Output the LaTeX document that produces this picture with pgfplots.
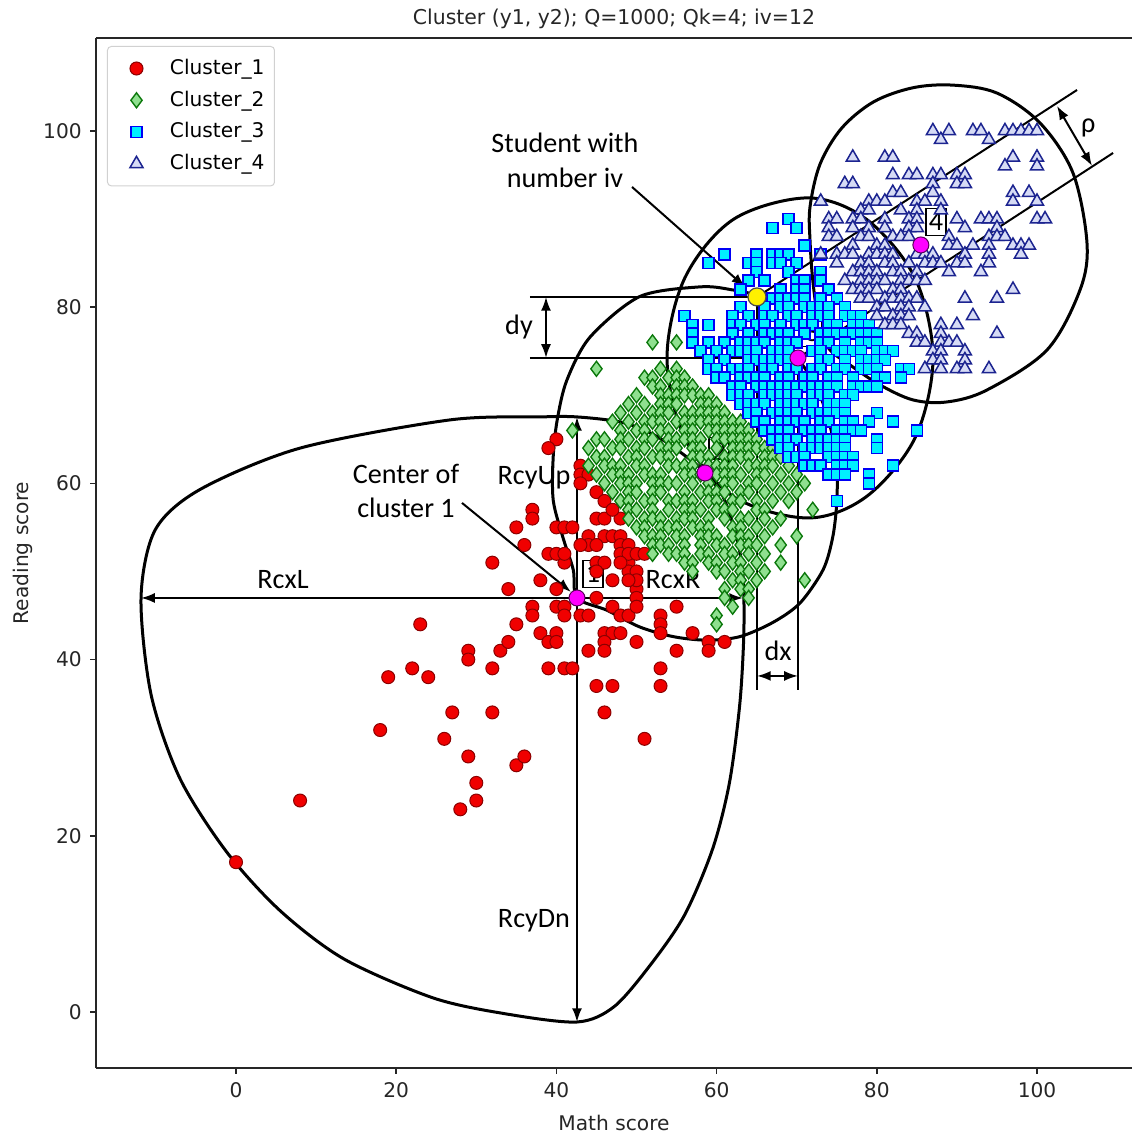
\documentclass[border=0pt]{standalone}
\usepackage{pgfplots}
\pgfplotsset{compat=1.18}
\usepackage{fontspec}
\setmainfont{DejaVu Sans}
\newfontfamily\carl{Carlito}
\usetikzlibrary{arrows.meta}
\definecolor{cOneF}{HTML}{F00000}
\definecolor{cOneE}{HTML}{8B0000}
\definecolor{cTwoF}{HTML}{8FE08F}
\definecolor{cTwoE}{HTML}{0B780B}
\definecolor{cThrF}{HTML}{00F0FF}
\definecolor{cThrE}{HTML}{0000F5}
\definecolor{cFouF}{HTML}{D6DBF5}
\definecolor{cFouE}{HTML}{1C2490}
\definecolor{cMag}{HTML}{FF00FF}
\definecolor{cMagE}{HTML}{5A005A}
\definecolor{cYel}{HTML}{FFF000}
\newcommand\annot{\carl\fontsize{11.3}{13}\selectfont}
\tikzset{numbox/.style={draw, fill=white, line width=0.5bp, inner sep=0pt, minimum width=8bp, minimum height=11bp, font=\annot}}
\pgfplotsset{myleg/.style={legend image code/.code={\path[draw=none] (0bp,0bp) -- (21bp,0bp); \path[mark repeat=2,mark phase=2,##1,draw=none] plot coordinates {(0bp,0bp)(9.6bp,0bp)(19.2bp,0bp)};}}}
\begin{document}
\begin{tikzpicture}[>={Latex[length=5.5bp,width=4bp]}]
\begin{axis}[
  scale only axis, width=414.4bp, height=412bp,
  xmin=-17.48, xmax=111.86, ymin=-6.36, ymax=110.55,
  axis lines=left, axis line style={-, black!85, line width=0.7bp},
  clip=false,
  xtick={0,20,...,100}, ytick={0,20,...,100},
  tick align=outside, major tick length=2.2bp,
  tick style={black!85, line width=0.6bp},
  ticklabel style={font=\fontsize{8.1}{9.7}\selectfont, text=black!85},
  /pgf/number format/assume math mode=true,
  xlabel={Math score},
  xlabel style={at={(axis description cs:0.5,-0.0602)}, anchor=base, font=\fontsize{8.1}{9.7}\selectfont, text=black!85},
  ylabel={Reading score},
  ylabel style={at={(axis description cs:-0.0656,0.5)}, anchor=base, font=\fontsize{8.1}{9.7}\selectfont, text=black!85},
  legend style={at={(rel axis cs:0,1)}, anchor=north west, xshift=4.4bp, yshift=-3.2bp,
    draw=black!18, rounded corners=1.5bp, font=\fontsize{8.1}{9.7}\selectfont,
    row sep=1.1bp, inner xsep=2bp, inner ysep=3bp, cells={anchor=west}},
]
\coordinate (sw) at (rel axis cs:0,0);
\coordinate (ne) at (rel axis cs:1,1);
% Cluster 1
\addplot[only marks, myleg, mark=*, mark size=2.6bp, mark options={fill=cOneF, draw=cOneE, line width=0.4bp}] coordinates {
(0,17)(8,24)(18,32)(19,38)(22,39)(23,44)(24,38)(26,31)(27,34)(28,23)(29,41)(29,40)(29,29)(30,26)(30,24)(32,51)(32,39)(32,34)(33,41)(34,48)(34,42)(35,44)(35,28)(36,29)(37,46)(37,45)(38,49)(38,43)(39,42)(40,48)(40,46)(41,46)(41,45)(40,43)(40,42)(41,51)(39,39)(41,39)(42,39)(43,45)(44,45)(45,47)(47,49)(49,51)(49,50)(50,50)(50,48)(50,47)(47,46)(48,45)(49,45)(46,43)(47,43)(48,43)(46,42)(46,41)(44,41)(50,42)(53,45)(53,44)(53,43)(55,46)(55,41)(53,39)(53,37)(45,37)(47,37)(46,34)(51,31)(40,65)(39,64)(43,62)(43,61)(44,61)(43,60)(45,59)(46,58)(37,57)(37,56)(35,55)(36,53)(40,55)(41,55)(42,55)(45,56)(46,56)(48,56)(47,57)(44,54)(46,54)(47,54)(48,54)(44,53)(45,53)(43,53)(39,52)(40,52)(41,52)(48,53)(49,53)(48,52)(49,52)(50,52)(48,51)(45,51)(46,51)(45,50)(51,52)(50,46)(57,43)(59,42)(59,41)(61,42)(50,49)(49,49)
};
\addlegendentry{Cluster\_1}
% Cluster 2
\addplot[only marks, myleg, mark=diamond*, mark size=3bp, mark options={fill=cTwoF, draw=cTwoE, line width=0.55bp}] coordinates {
(52,76)(55,76)(45,73)(53,73)(55,73)
(51,72)(52,72)(54,72)(55,72)(56,72)
(52,71)(53,71)(55,71)(56,71)(57,71)
(50,70)(53,70)(54,70)(55,70)(56,70)(57,70)(58,70)(59,70)
(49,69)(51,69)(53,69)(54,69)(55,69)(58,69)(59,69)(60,69)
(48,68)(50,68)(52,68)(53,68)(54,68)(56,68)(57,68)(58,68)(59,68)(60,68)(61,68)
(47,67)(49,67)(51,67)(52,67)(53,67)(55,67)(56,67)(57,67)(58,67)(59,67)(60,67)(61,67)(62,67)(63,67)
(42,66)(48,66)(50,66)(51,66)(53,66)(54,66)(56,66)(57,66)(59,66)(60,66)(61,66)(62,66)(63,66)(64,66)
(45,65)(46,65)(48,65)(49,65)(51,65)(52,65)(54,65)(55,65)(56,65)(57,65)(58,65)(60,65)(61,65)(62,65)(63,65)(64,65)(65,65)
(44,64)(47,64)(48,64)(50,64)(51,64)(53,64)(54,64)(55,64)(57,64)(58,64)(60,64)(62,64)(63,64)(64,64)(65,64)(66,64)(67,64)
(45,63)(46,63)(49,63)(50,63)(52,63)(53,63)(54,63)(57,63)(58,63)(59,63)(61,63)(62,63)(63,63)(64,63)(66,63)(67,63)(68,63)
(44,62)(46,62)(47,62)(48,62)(50,62)(51,62)(54,62)(55,62)(56,62)(57,62)(59,62)(60,62)(61,62)(62,62)(64,62)(65,62)(66,62)(67,62)(69,62)
(45,61)(47,61)(48,61)(49,61)(51,61)(52,61)(53,61)(56,61)(57,61)(58,61)(60,61)(61,61)(62,61)(63,61)(65,61)(66,61)(68,61)(70,61)
(46,60)(48,60)(49,60)(50,60)(52,60)(53,60)(54,60)(55,60)(57,60)(59,60)(61,60)(62,60)(64,60)(65,60)(67,60)(69,60)(71,60)
(47,59)(49,59)(50,59)(52,59)(53,59)(56,59)(58,59)(59,59)(60,59)(61,59)(63,59)(64,59)(66,59)(68,59)(70,59)
(48,58)(49,58)(51,58)(52,58)(54,58)(55,58)(56,58)(57,58)(59,58)(60,58)(62,58)(63,58)(65,58)(67,58)(69,58)
(49,57)(50,57)(52,57)(54,57)(56,57)(57,57)(58,57)(60,57)(61,57)(62,57)(65,57)(66,57)(72,57)
(49,56)(51,56)(52,56)(53,56)(55,56)(56,56)(57,56)(59,56)(61,56)(63,56)(64,56)(66,56)(68,56)
(50,55)(51,55)(53,55)(54,55)(55,55)(57,55)(58,55)(59,55)(62,55)(63,55)(65,55)(67,55)
(51,54)(52,54)(53,54)(55,54)(56,54)(58,54)(59,54)(60,54)(62,54)(63,54)(64,54)(66,54)(70,54)
(52,53)(53,53)(54,53)(56,53)(58,53)(60,53)(61,53)(63,53)(64,53)(65,53)(68,53)
(52,52)(54,52)(55,52)(56,52)(58,52)(59,52)(61,52)(62,52)(64,52)(66,52)
(56,51)(57,51)(59,51)(60,51)(62,51)(63,51)(65,51)(68,51)
(57,50)(60,50)(61,50)(63,50)(64,50)(66,50)
(62,49)(63,49)(65,49)(71,49)
(61,48)(63,48)(64,48)
(61,47)(64,47)(62,46)(60,45)(60,44)
};
\addlegendentry{Cluster\_2}
% Cluster 3
\addplot[only marks, myleg, mark=square*, mark size=2.2bp, mark options={fill=cThrF, draw=cThrE, line width=0.6bp}] coordinates {
(69,90)(67,89)(70,89)(71,87)
(61,86)(65,86)(67,86)(68,86)(69,86)(73,86)
(59,85)(64,85)(65,85)(67,85)(68,85)(70,85)
(65,84)(69,84)(73,84)
(64,83)(66,83)(70,83)(71,83)(73,83)
(63,82)(68,82)(70,82)(71,82)(74,82)
(67,81)(68,81)(69,81)(70,81)(71,81)(73,81)(75,81)
(63,80)(66,80)(68,80)(69,80)(71,80)(72,80)(73,80)(74,80)(76,80)
(56,79)(62,79)(64,79)(66,79)(67,79)(69,79)(70,79)(72,79)(73,79)(74,79)(76,79)(77,79)(78,79)
(57,78)(59,78)(62,78)(63,78)(65,78)(66,78)(68,78)(70,78)(71,78)(72,78)(74,78)(75,78)(77,78)(78,78)(79,78)
(57,77)(62,77)(64,77)(66,77)(67,77)(68,77)(69,77)(71,77)(73,77)(74,77)(75,77)(76,77)(77,77)(78,77)(79,77)(80,77)
(57,76)(59,76)(61,76)(63,76)(64,76)(65,76)(66,76)(68,76)(69,76)(70,76)(73,76)(74,76)(76,76)(78,76)(79,76)(80,76)
(58,75)(60,75)(62,75)(63,75)(64,75)(65,75)(67,75)(68,75)(69,75)(72,75)(73,75)(75,75)(76,75)(77,75)(78,75)(80,75)(81,75)(82,75)
(59,74)(61,74)(64,74)(65,74)(66,74)(67,74)(68,74)(69,74)(73,74)(74,74)(76,74)(78,74)(79,74)(80,74)(81,74)
(59,73)(60,73)(62,73)(63,73)(64,73)(66,73)(67,73)(69,73)(70,73)(72,73)(73,73)(75,73)(76,73)(78,73)(79,73)(80,73)(83,73)(84,73)
(60,72)(61,72)(63,72)(64,72)(65,72)(66,72)(68,72)(69,72)(71,72)(72,72)(74,72)(75,72)(77,72)(80,72)(81,72)(83,72)
(62,71)(63,71)(65,71)(66,71)(67,71)(68,71)(69,71)(70,71)(71,71)(72,71)(73,71)(74,71)(75,71)(77,71)(78,71)(79,71)(80,71)
(62,70)(63,70)(64,70)(66,70)(67,70)(68,70)(69,70)(70,70)(72,70)(73,70)(74,70)(76,70)(77,70)
(63,69)(64,69)(65,69)(66,69)(68,69)(69,69)(70,69)(71,69)(72,69)(74,69)(75,69)(76,69)
(64,68)(65,68)(67,68)(68,68)(69,68)(70,68)(72,68)(73,68)(74,68)(75,68)(76,68)(80,68)
(65,67)(66,67)(68,67)(69,67)(70,67)(71,67)(73,67)(74,67)(76,67)(77,67)(79,67)(82,67)
(66,66)(67,66)(68,66)(69,66)(71,66)(72,66)(73,66)(75,66)(76,66)(77,66)(78,66)(85,66)
(67,65)(68,65)(69,65)(70,65)(72,65)(73,65)(74,65)(75,65)(76,65)(80,65)
(68,64)(69,64)(71,64)(72,64)(73,64)(74,64)(75,64)(76,64)(80,64)
(69,63)(70,63)(71,63)(74,63)(75,63)(76,63)(77,63)
(71,62)(72,62)(73,62)(75,62)(76,62)(77,62)(82,62)
(74,61)(75,61)(76,61)(79,61)(79,60)(75,58)
};
\addlegendentry{Cluster\_3}
% Cluster 4
\addplot[only marks, myleg, mark=triangle*, mark size=3bp, mark options={fill=cFouF, draw=cFouE, line width=0.6bp}] coordinates {
(87,100)(89,100)(92,100)(93,100)(96,100)(97,100)(98,100)(99,100)(100,100)
(88,99)(94,99)
(77,97)(81,97)(82,97)(97,97)(100,97)
(96,96)(100,96)
(82,95)(84,95)(85,95)(87,95)(88,95)(90,95)(91,95)
(76,94)(77,94)(87,94)(90,94)(91,94)
(82,93)(83,93)(87,93)(97,93)(99,93)
(73,92)(79,92)(80,92)(81,92)(85,92)(86,92)(88,92)(97,92)(100,92)
(78,91)(79,91)(83,91)(85,91)(88,91)
(74,90)(75,90)(77,90)(78,90)(81,90)(84,90)(85,90)(90,90)(93,90)(94,90)(95,90)(100,90)(101,90)
(74,89)(77,89)(79,89)(81,89)(84,89)(85,89)(91,89)(95,89)
(74,88)(75,88)(78,88)(79,88)(82,88)(83,88)(84,88)(89,88)(94,88)(95,88)(96,88)
(77,87)(80,87)(81,87)(89,87)(90,87)(92,87)(94,87)(97,87)(98,87)(99,87)
(73,86)(75,86)(76,86)(77,86)(79,86)(80,86)(81,86)(82,86)(85,86)(86,86)(87,86)(91,86)(94,86)(98,86)
(75,85)(78,85)(79,85)(81,85)(82,85)(84,85)(86,85)(87,85)(88,85)(90,85)(91,85)(94,85)
(77,84)(78,84)(79,84)(80,84)(82,84)(83,84)(85,84)(89,84)(93,84)
(76,83)(78,83)(79,83)(80,83)(81,83)(83,83)(84,83)(85,83)(86,83)
(77,82)(78,82)(79,82)(80,82)(82,82)(83,82)(97,82)
(78,81)(79,81)(81,81)(82,81)(83,81)(84,81)(85,81)(91,81)(95,81)
(80,80)(81,80)(83,80)(84,80)(86,80)
(80,79)(82,79)(83,79)(84,79)(92,79)
(81,78)(82,78)(83,78)(88,78)(90,78)
(84,77)(85,77)(88,77)(95,77)
(85,76)(86,76)(88,76)(89,76)(90,76)
(87,75)(88,75)(91,75)
(87,74)(88,74)(91,74)
(86,73)(88,73)(90,73)(91,73)(94,73)
};
\addlegendentry{Cluster\_4}
% top border and title
\draw[black!85, line width=0.7bp] (rel axis cs:0,1) -- (rel axis cs:1,1);
\node[anchor=base, yshift=5.2bp, font=\fontsize{8.2}{10}\selectfont, text=black!85] at (rel axis cs:0.5,1) {Cluster (y1, y2); Q=1000; Qk=4; iv=12};
% egg of cluster 1
\draw[line width=1.2bp] plot[smooth cycle, tension=0.5] coordinates {
(42.57,67.54)(48.3,66.9)(52.6,65.3)(56.7,62.7)(58.55,61.18)(60.8,58.5)(62.5,53.9)(63.3,49.5)(63.4,43)(62.9,35)(61.6,26)(59.5,18.5)(56,11)(51.7,5.3)(47.2,0.6)(42.57,-1.14)(33.58,-0.2)(24.59,1.6)(13.5,6.0)(5.5,11.5)(-1.2,18.2)(-7.0,26.5)(-10.6,36)(-11.86,46.99)(-10.1,54.7)(-4.5,59.3)(8,64.0)(26.7,67.2)(37.95,67.54)};
% cluster 2 curve
\draw[line width=1.2bp] plot[smooth cycle, tension=0.5] coordinates {
(65.04,81.16)(67.6,78.0)(70.16,74.23)(72.5,70.9)(74.2,66.4)(75,61.9)(75,57.8)(74.5,53.9)(73.3,50.2)(70.4,46.4)(67.0,44.2)(62.9,42.6)(58.8,42.2)(54.6,42.6)(50.4,43.7)(46.3,45.6)(42.57,46.99)(42.1,50.2)(40.8,53.9)(39.6,58.1)(39.6,63.0)(40.1,67.2)(41.3,71.7)(44.2,76.6)(50.4,81.2)(57.9,82.3)(61.7,82.0)};
% cluster 3 curve
\draw[line width=1.2bp] plot[smooth cycle, tension=0.55] coordinates {
(87.02,74.23)(84.77,83.31)(78.71,89.97)(71.38,92.40)(62.11,89.97)(56.03,83.31)(53.81,74.23)(56.03,65.15)(62.11,58.50)(71.38,56.07)(78.71,58.50)(84.77,65.15)};
% cluster 4 curve
\draw[line width=1.2bp] plot[smooth cycle, tension=0.55] coordinates {
(71.66,91.37)(72.9,96.2)(75.6,100.3)(79.6,103.3)(84.5,104.9)(89.5,105.2)(95.0,104.3)(100.37,100.91)(104.49,95.23)(106.24,87.29)(105.37,81.95)(101.25,75.14)(93.76,70.6)(88.76,69.24)(84.52,69.47)(80.4,71.17)(76.65,73.44)(74.16,75.14)(72.91,77.41)(72.04,82.75)(71.66,87.63)};
% radius arrows of cluster 1
\draw[->, line width=0.8bp] (42.57,46.99) -- (-11.86,46.99);
\draw[->, line width=0.8bp] (42.57,46.99) -- (63.3,46.99);
\draw[->, line width=0.8bp] (42.57,46.99) -- (42.57,67.54);
\draw[->, line width=0.8bp] (42.57,46.99) -- (42.57,-1.14);
% dx dy construction
\draw[line width=0.8bp] (36.7,81.16) -- (65.04,81.16);
\draw[line width=0.8bp] (36.7,74.23) -- (70.16,74.23);
\draw[<->, line width=0.8bp] (38.7,81.16) -- (38.7,74.23);
\draw[line width=0.8bp] (65.04,81.16) -- (65.04,36.55);
\draw[line width=0.8bp] (70.16,74.23) -- (70.16,36.55);
\draw[<->, line width=0.8bp] (65.04,38.14) -- (70.16,38.14);
% rho lines
\draw[line width=0.8bp] (65.04,81.16) -- (105.0,104.65);
\draw[line width=0.8bp] (70.16,74.23) -- (109.5,97.5);
\draw[<->, line width=0.8bp] (102.5,102.84) -- (106.87,96.03);
% pointer arrows
\draw[->, line width=0.8bp] (49.44,93.64) -- (63.56,82.29);
\draw[->, line width=0.8bp] (28.21,57.78) -- (41.82,47.67);
% centres
\addplot[only marks, mark=*, mark size=3.2bp, mark options={fill=cMag, draw=cMagE, line width=0.4bp}, forget plot] coordinates {(42.57,46.99)(58.55,61.18)(70.16,74.23)(85.5,87.06)};
\addplot[only marks, mark=*, mark size=3.6bp, mark options={fill=cYel, draw=black!70, line width=0.5bp}, forget plot] coordinates {(65.04,81.16)};
% labels
\node[font=\annot] at (5.87,49.03) {RcxL};
\node[font=\annot, fill=white, inner sep=0.6bp] at (54.56,49.03) {RcxR};
\node[font=\annot] at (37.2,60.6) {RcyUp};
\node[font=\annot] at (37.2,10.33) {RcyDn};
\node[font=\annot] at (35.33,77.75) {dy};
\node[font=\annot] at (67.67,40.98) {dx};
\node[font=\annot] at (106.4,100.3) {ρ};
\node[font=\annot] at (21.22,61.07) {Center of};
\node[font=\annot] at (21.22,57.2) {cluster 1};
\node[font=\annot] at (41.07,98.64) {Student with};
\node[font=\annot] at (41.07,94.67) {number iv};
\node[numbox] at (44.57,49.72) {1};
\node[numbox] at (60.3,63.68) {2};
\node[numbox] at (71.91,77.07) {3};
\node[numbox] at (87.39,89.67) {4};
\end{axis}
\pgfresetboundingbox
\useasboundingbox ([xshift=-38.4bp,yshift=-26.4bp]sw) rectangle ([yshift=15.2bp]ne);
\end{tikzpicture}
\end{document}
